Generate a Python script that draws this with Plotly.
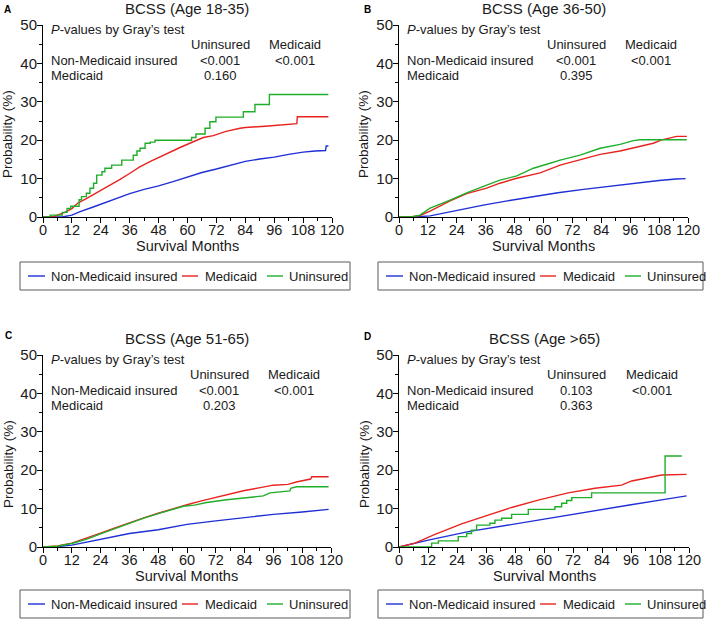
import plotly.graph_objects as go

FONT = "Liberation Sans, Arial, sans-serif"

# ---------------- data ----------------
series_names = ["Non-Medicaid insured", "Medicaid", "Uninsured"]
series_colors = ["#1f2fd6", "#e8231f", "#1fae2a"]

x_ticks = [0, 12, 24, 36, 48, 60, 72, 84, 96, 108, 120]
y_ticks = [0, 10, 20, 30, 40, 50]

panel_letters = ["A", "B", "C", "D"]
panel_titles = ["BCSS (Age 18-35)", "BCSS (Age 36-50)", "BCSS (Age 51-65)", "BCSS (Age >65)"]

# P-values by Gray's test
p_nonmed_uninsured = ["<0.001", "<0.001", "<0.001", "0.103"]
p_nonmed_medicaid = ["<0.001", "<0.001", "<0.001", "<0.001"]
p_medicaid_uninsured = ["0.160", "0.395", "0.203", "0.363"]

# Panel A (Age 18-35)
A_blue_x = [0, 8, 12, 15.4, 20, 24, 30, 36, 42, 48, 54, 60, 66, 72, 78, 84, 90, 96, 102, 108, 113, 117.3, 117.6, 118.5]
A_blue_y = [0, 0, 0.5, 1.4, 2.4, 3.3, 4.8, 6.1, 7.2, 8.1, 9.2, 10.5, 11.6, 12.5, 13.5, 14.5, 15.1, 15.6, 16.3, 16.9, 17.2, 17.3, 18.5, 18.5]
A_red_x = [0, 4, 6, 9, 12, 14.6, 18, 22.9, 27.8, 32, 36.1, 40, 44.4, 48.6, 51.4, 56.9, 62.4, 66.6, 70.7, 76, 81.8, 84, 93.6, 101.9, 105.4, 105.6, 118.5]
A_red_y = [0, 0, 0.5, 1.2, 2.2, 3.7, 4.8, 6.5, 8.3, 9.8, 11.4, 13.0, 14.4, 15.7, 16.5, 18.1, 19.6, 20.7, 21.2, 22.3, 23.1, 23.3, 23.7, 24.1, 24.3, 26.1, 26.1]
A_green_x = [0, 3, 8, 10, 11.5, 15, 16, 18, 19.5, 21, 22.3, 24.5, 25.7, 28.5, 32.7, 37.5, 39, 40.3, 42.4, 44.5, 46.5, 61.7, 63.5, 67.3, 69.3, 71.8, 83.2, 88, 94, 118.5]
A_green_y = [0, 0.5, 1.2, 2.2, 2.8, 4.5, 5.3, 6.2, 7.5, 8.8, 10.9, 11.8, 12.7, 13.5, 14.8, 16.1, 17.2, 17.9, 19.2, 19.5, 20.0, 20.7, 21.6, 23.1, 24.8, 26.0, 27.4, 29.3, 31.9, 31.9]

# Panel B (Age 36-50)
B_blue_x = [0, 6, 12.9, 21.2, 28, 35, 45, 55.8, 66, 76.6, 87, 97.3, 108, 115, 119]
B_blue_y = [0, 0, 0.3, 1.4, 2.2, 3.1, 4.2, 5.3, 6.3, 7.2, 8.0, 8.8, 9.5, 9.9, 10.0]
B_red_x = [0, 5, 8.7, 12.9, 21.2, 28.1, 36.4, 41.9, 48.9, 58.6, 66.9, 75.2, 83.5, 91.8, 100.1, 105.6, 109.1, 113.9, 115.3, 119.5]
B_red_y = [0, 0, 0.4, 1.5, 4.2, 6.1, 7.5, 8.8, 10.1, 11.5, 13.5, 14.8, 16.3, 17.2, 18.3, 19.2, 20.1, 20.7, 21.0, 21.0]
B_green_x = [0, 5, 8.7, 12.9, 21.2, 28.1, 36.4, 41.9, 48.9, 55.8, 62.7, 66.9, 75.2, 83.5, 91.8, 97.3, 100, 119.5]
B_green_y = [0, 0, 0.5, 2.3, 4.4, 6.3, 8.3, 9.6, 10.7, 12.7, 14.0, 14.8, 16.1, 17.9, 18.9, 19.9, 20.1, 20.1]

# Panel C (Age 51-65)
C_blue_x = [0, 6, 12, 24, 36, 48, 60, 72, 84, 96, 108, 119]
C_blue_y = [0, 0.1, 0.5, 2.0, 3.5, 4.5, 5.9, 6.8, 7.7, 8.5, 9.1, 9.8]
C_red_x = [0, 6, 12, 18, 24, 30, 36, 42, 48, 54, 60, 66, 72, 78, 84, 90, 96, 102, 106, 111.5, 112, 119]
C_red_y = [0, 0.3, 1.0, 2.2, 3.6, 5.0, 6.4, 7.6, 8.8, 10.0, 11.0, 12.0, 12.9, 13.7, 14.7, 15.4, 16.1, 16.3, 17.0, 17.7, 18.3, 18.3]
C_green_x = [0, 6, 12, 18, 24, 30, 36, 42, 48, 54, 58.5, 63, 68.2, 76.5, 84.9, 91.8, 94.6, 102.9, 103.2, 105.7, 119]
C_green_y = [0, 0.2, 0.9, 2.0, 3.4, 4.8, 6.3, 7.5, 8.7, 9.9, 10.6, 10.9, 11.6, 12.3, 12.9, 13.3, 14.1, 14.6, 15.3, 15.7, 15.7]

# Panel D (Age >65)
D_blue_x = [0, 12.1, 28.7, 53.5, 81.1, 96, 108, 119]
D_blue_y = [0, 1.8, 4.0, 6.6, 9.6, 11.0, 12.2, 13.3]
D_red_x = [0, 6.6, 14.9, 25.9, 36.9, 46.6, 57.6, 70, 81.1, 92.1, 96.3, 105.9, 108.7, 119]
D_red_y = [0, 1.0, 3.3, 6.0, 8.3, 10.3, 12.2, 14.1, 15.3, 16.1, 17.2, 18.3, 18.75, 18.9]
D_green_x = [0, 13.5, 16.3, 24.5, 28, 30, 32.1, 37.6, 39.7, 42.5, 46.6, 53.5, 64.5, 67.3, 69.4, 71.5, 79.7, 110.1, 117]
D_green_y = [0, 1.0, 1.6, 2.7, 3.5, 4.4, 5.7, 6.2, 7.0, 7.5, 8.5, 9.8, 10.5, 11.4, 12.1, 12.85, 14.1, 23.7, 23.7]

panel_series = [
    [(A_blue_x, A_blue_y), (A_red_x, A_red_y), (A_green_x, A_green_y)],
    [(B_blue_x, B_blue_y), (B_red_x, B_red_y), (B_green_x, B_green_y)],
    [(C_blue_x, C_blue_y), (C_red_x, C_red_y), (C_green_x, C_green_y)],
    [(D_blue_x, D_blue_y), (D_red_x, D_red_y), (D_green_x, D_green_y)],
]
green_step_panels = [True, False, False, True]

# ---------------- layout geometry (pixels) ----------------
W, H = 709, 620
plot_px = [  # (left, right, top, bottom)
    (43, 332, 25, 217),
    (399, 688, 25, 217),
    (43, 331, 355, 547),
    (399, 689, 355, 547),
]
letter_px = [(7.5, 9), (367, 9), (8.3, 335), (367, 336)]
legend_box_px = [(20, 350, 262, 290), (378, 703, 262, 290), (20, 350, 590, 618), (378, 703, 590, 618)]
legend_key_offsets = [(8, 25, 29), (162, 178, 183), (247, 263, 267)]  # line start, line end, text start


def px2x(p):
    return p / W


def px2y(p):
    return 1 - p / H


fig = go.Figure()
annotations, shapes = [], []
layout = dict(
    width=W, height=H, margin=dict(l=0, r=0, t=0, b=0, autoexpand=False),
    paper_bgcolor="white", plot_bgcolor="white",
    font=dict(family=FONT, color="#1a1a1a"), showlegend=False,
)

for i in range(4):
    n = "" if i == 0 else str(i + 1)
    xa, ya = "x" + n, "y" + n
    l, r, t, b = plot_px[i]
    for j, (xs, ys) in enumerate(panel_series[i]):
        shape = "hv" if (j == 2 and green_step_panels[i]) else "linear"
        fig.add_trace(go.Scatter(
            x=xs, y=ys, mode="lines", name=series_names[j],
            line=dict(color=series_colors[j], width=1.4, shape=shape),
            xaxis=xa, yaxis=ya, hoverinfo="skip", showlegend=False,
        ))
    layout["xaxis" + n] = dict(
        domain=[px2x(l), px2x(r)], anchor=ya, range=[0, 120],
        tickvals=x_ticks, showline=True, linecolor="black", linewidth=1,
        ticks="outside", ticklen=5, tickwidth=1, tickcolor="black", ticklabelstandoff=-5,
        minor=dict(dtick=6, tick0=0, ticks="outside", ticklen=3, tickwidth=1,
                   tickcolor="black", showgrid=False),
        showgrid=False, zeroline=False, tickfont=dict(size=14.5, family=FONT, color="#1a1a1a"),
    )
    layout["yaxis" + n] = dict(
        domain=[px2y(b), px2y(t)], anchor=xa, range=[0, 50],
        tickvals=y_ticks, showline=True, linecolor="black", linewidth=1,
        ticks="outside", ticklen=5, tickwidth=1, tickcolor="black", ticklabelstandoff=-3,
        minor=dict(dtick=5, tick0=0, ticks="outside", ticklen=3, tickwidth=1,
                   tickcolor="black", showgrid=False),
        showgrid=False, zeroline=False, tickfont=dict(size=15, family=FONT, color="#1a1a1a"),
    )
    cx = (l + r) / 2
    # panel title
    annotations.append(dict(text=panel_titles[i], x=px2x(cx), y=px2y(t - 17), xref="paper", yref="paper",
                            xanchor="center", yanchor="middle", showarrow=False,
                            font=dict(size=15, family=FONT)))
    # panel letter
    annotations.append(dict(text="<b>%s</b>" % panel_letters[i], x=px2x(letter_px[i][0]),
                            y=px2y(letter_px[i][1]), xref="paper", yref="paper",
                            xanchor="center", yanchor="middle", showarrow=False,
                            font=dict(size=10, family=FONT, color="black")))
    # axis titles
    annotations.append(dict(text="Survival Months", x=px2x(cx), y=px2y(b + 29), xref="paper", yref="paper",
                            xanchor="center", yanchor="middle", showarrow=False,
                            font=dict(size=14.5, family=FONT)))
    annotations.append(dict(text="Probability (%)", x=px2x(l - 35), y=px2y((t + b) / 2 + 13),
                            xref="paper", yref="paper", xanchor="center", yanchor="middle",
                            showarrow=False, textangle=-90, font=dict(size=13.5, family=FONT)))
    # p-value table
    tfont = dict(size=13, family=FONT)
    rows = [
        ("<i>P</i>-values by Gray’s test", 2.5, 48.7, "left"),
        ("Uninsured", 73.5, 44.8, "center"),
        ("Medicaid", 104.5, 44.8, "center"),
        ("Non-Medicaid insured", 2.5, 40.8, "left"),
        (p_nonmed_uninsured[i], 73.5, 40.8, "center"),
        (p_nonmed_medicaid[i], 104.5, 40.8, "center"),
        ("Medicaid", 2.5, 36.9, "left"),
        (p_medicaid_uninsured[i], 73.5, 36.9, "center"),
    ]
    for txt, tx, ty, anc in rows:
        annotations.append(dict(text=txt, x=tx, y=ty, xref=xa, yref=ya, xanchor=anc,
                                yanchor="middle", showarrow=False, font=tfont))
    # legend box (one per panel)
    bl, br, bt, bb = legend_box_px[i]
    shapes.append(dict(type="rect", xref="paper", yref="paper", x0=px2x(bl), x1=px2x(br),
                       y0=px2y(bb), y1=px2y(bt), line=dict(color="#5a5a5a", width=1),
                       fillcolor="white", layer="below"))
    ym = (bt + bb) / 2
    for j in range(3):
        ls, le, ts = legend_key_offsets[j]
        shapes.append(dict(type="line", xref="paper", yref="paper", x0=px2x(bl + ls), x1=px2x(bl + le),
                           y0=px2y(ym), y1=px2y(ym), line=dict(color=series_colors[j], width=1.4)))
        annotations.append(dict(text=series_names[j], x=px2x(bl + ts), y=px2y(ym), xref="paper",
                                yref="paper", xanchor="left", yanchor="middle", showarrow=False,
                                font=dict(size=13, family=FONT)))

layout["annotations"] = annotations
layout["shapes"] = shapes
fig.update_layout(**layout)
fig.write_html("out.html", config={"displayModeBar": False, "staticPlot": True},
               post_script="document.body.style.margin='0';document.body.style.padding='0';")
